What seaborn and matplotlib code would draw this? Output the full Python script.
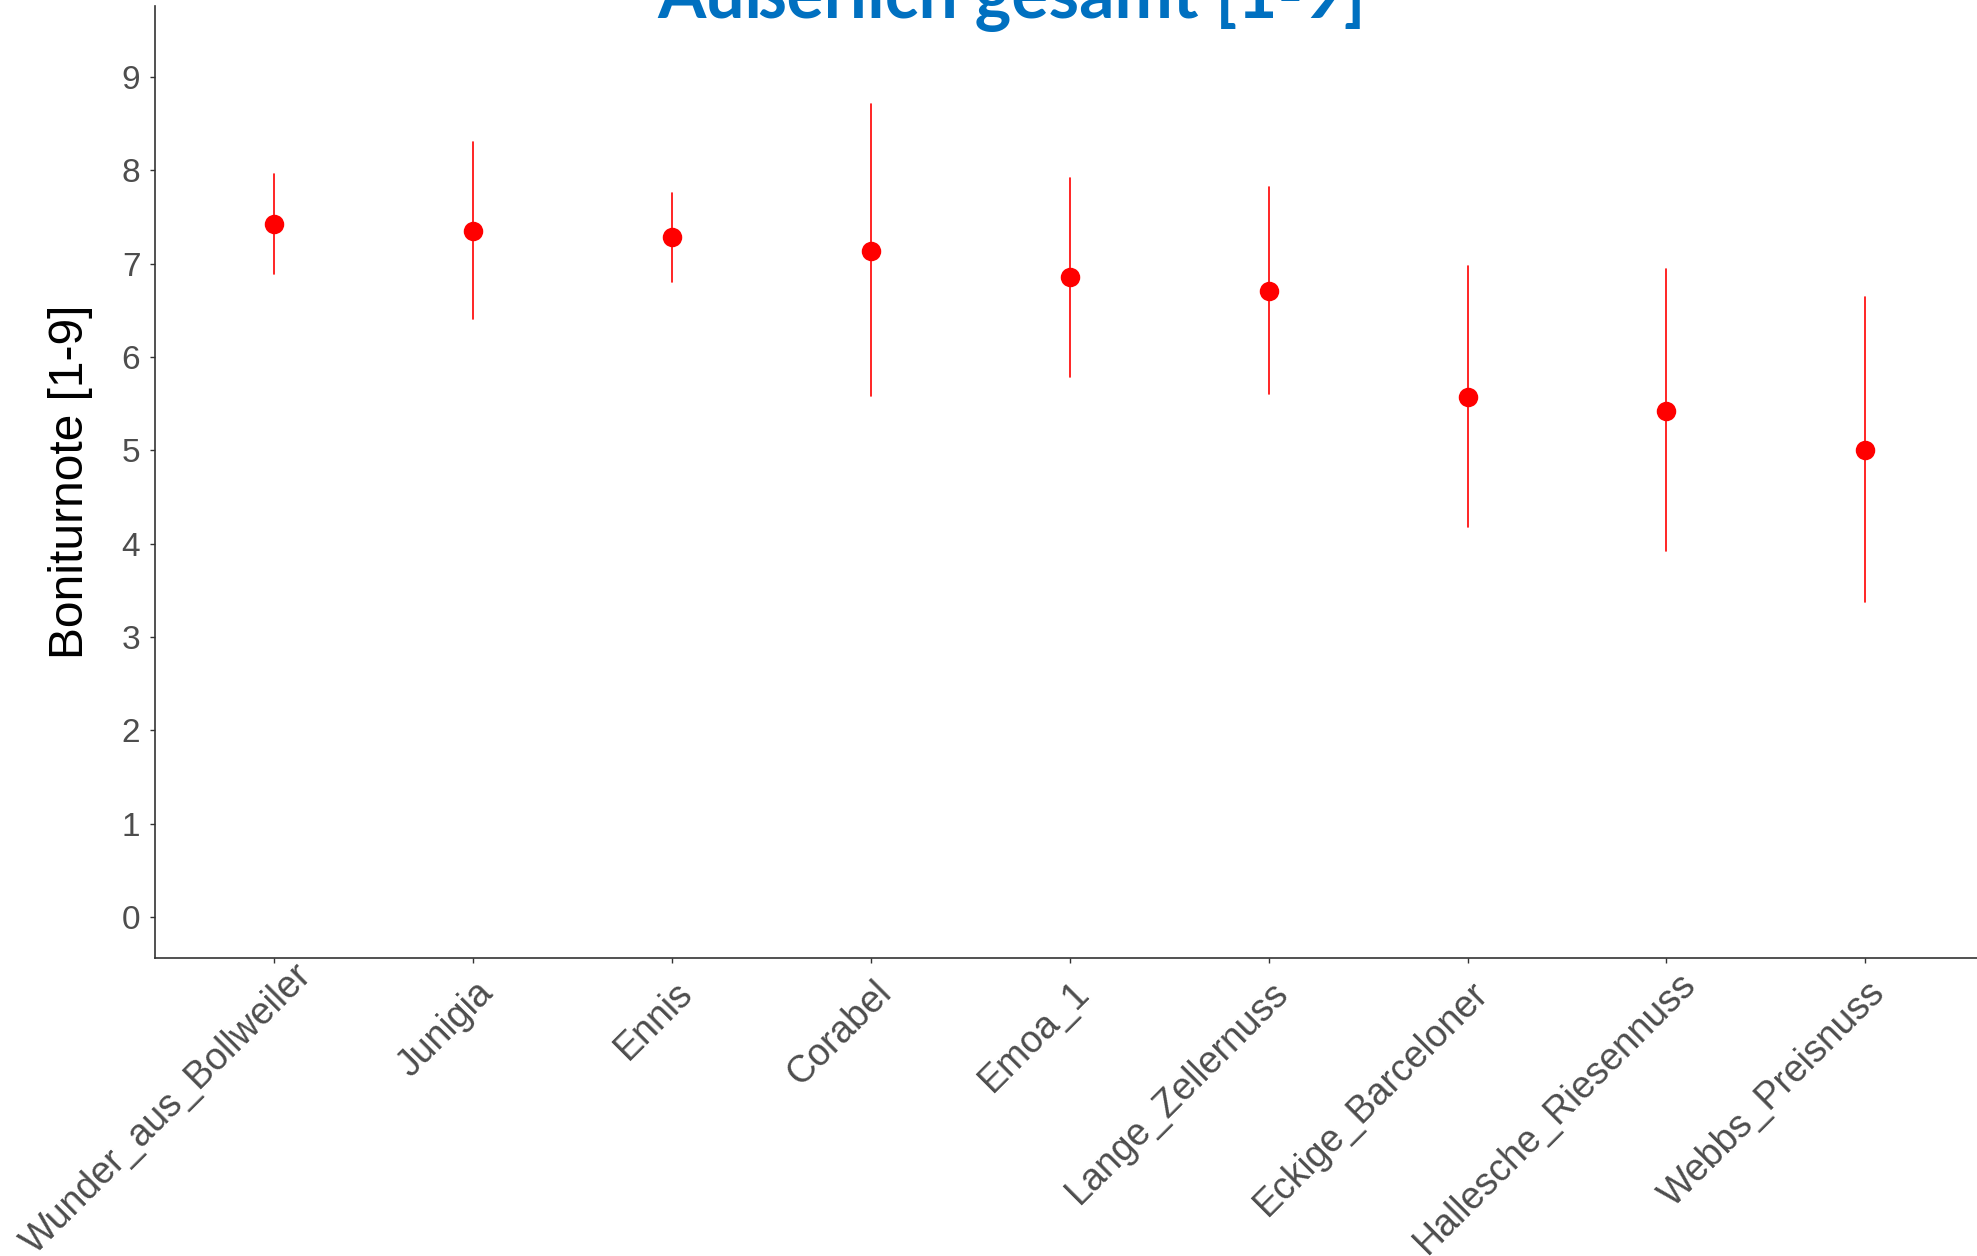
import numpy as np
import pandas as pd
import matplotlib
matplotlib.use("Agg")
import matplotlib.pyplot as plt
import matplotlib.transforms as mtransforms
import seaborn as sns

# ---- data ----
sorten = ["Wunder_aus_Bollweiler", "Junigia", "Ennis", "Corabel", "Emoa_1",
          "Lange_Zellernuss", "Eckige_Barceloner", "Hallesche_Riesennuss", "Webbs_Preisnuss"]
mittel = [7.42, 7.35, 7.29, 7.14, 6.86, 6.71, 5.57, 5.42, 5.00]
unten  = [6.89, 6.41, 6.80, 5.58, 5.79, 5.60, 4.18, 3.92, 3.37]
oben   = [7.96, 8.30, 7.76, 8.71, 7.92, 7.82, 6.97, 6.94, 6.64]
y_ticks = [0, 1, 2, 3, 4, 5, 6, 7, 8, 9]
titel = "Äußerlich gesamt [1-9]"
y_titel = "Boniturnote [1-9]"

# long table: median of (lower, mean, upper) = mean; 100% interval = lower..upper
df = pd.DataFrame({
    "Sorte": np.repeat(sorten, 3),
    "Wert": np.ravel(np.column_stack([unten, mittel, oben])),
})

sns.set_theme(style="white")
plt.rcParams["font.family"] = ["Liberation Sans", "DejaVu Sans"]

W, H = 1977, 1256
fig = plt.figure(figsize=(W / 100, H / 100), dpi=100)
ax_left = 155 / W
ax_bottom = 1 - 958 / H
ax_top = 1 - 6 / H
xmin, xmax = -0.6, 8.6
step = (1866 - 275) / 8
ax_width = (step * (xmax - xmin)) / W
ax = fig.add_axes([ax_left, ax_bottom, ax_width, ax_top - ax_bottom])

sns.pointplot(data=df, x="Sorte", y="Wert", order=sorten, estimator="median",
              errorbar=("pi", 100), color="#FF0000", linestyle="none",
              markers="o", markersize=12, err_kws={"linewidth": 1.2},
              ax=ax)

ax.set_xlim(xmin, xmax)
ax.set_ylim(-0.44, 9.76)
ax.set_yticks(y_ticks)
ax.set_yticklabels([str(t) for t in y_ticks])
ax.set_xlabel("")
ax.set_ylabel(y_titel, fontsize=34.5, color="black")
ax.yaxis.set_label_coords(93 / W, 1 - 482 / H, transform=fig.transFigure)

for s in ["top", "right"]:
    ax.spines[s].set_visible(False)
for s in ["left", "bottom"]:
    ax.spines[s].set_color("#333333")
    ax.spines[s].set_linewidth(1.2)

ax.tick_params(axis="y", which="both", left=True, length=3.6, width=1.0,
               color="#333333", pad=7, labelsize=24, labelcolor="#4D4D4D")
ax.tick_params(axis="x", which="both", bottom=True, length=3.6, width=1.0,
               color="#333333", pad=8.4, labelsize=27, labelcolor="#4D4D4D")
shift = mtransforms.ScaledTranslation(2 / 100, 0, fig.dpi_scale_trans)
labels = ax.get_xticklabels()
for lab in labels:
    lab.set_rotation(45)
    lab.set_ha("right")
    lab.set_va("top")
    lab.set_rotation_mode("anchor")
    lab.set_transform(lab.get_transform() + shift)

# long labels that would run off the bottom edge are pushed up-right along
# their own 45° direction so that their glyphs stay inside the figure
fig.canvas.draw()
renderer = fig.canvas.get_renderer()
margin = -5
for lab in labels:
    bb = lab.get_window_extent(renderer)
    if bb.y0 < margin:
        d = (margin - bb.y0) / 100
        lab.set_transform(lab.get_transform() +
                          mtransforms.ScaledTranslation(d, d, fig.dpi_scale_trans))

fig.text(1012 / W, 1 - 18 / H, titel, ha="center", va="baseline",
         fontfamily="Lato", fontweight="bold", fontsize=50, color="#0070C0")

fig.savefig("out.png", dpi=100, facecolor="white")
